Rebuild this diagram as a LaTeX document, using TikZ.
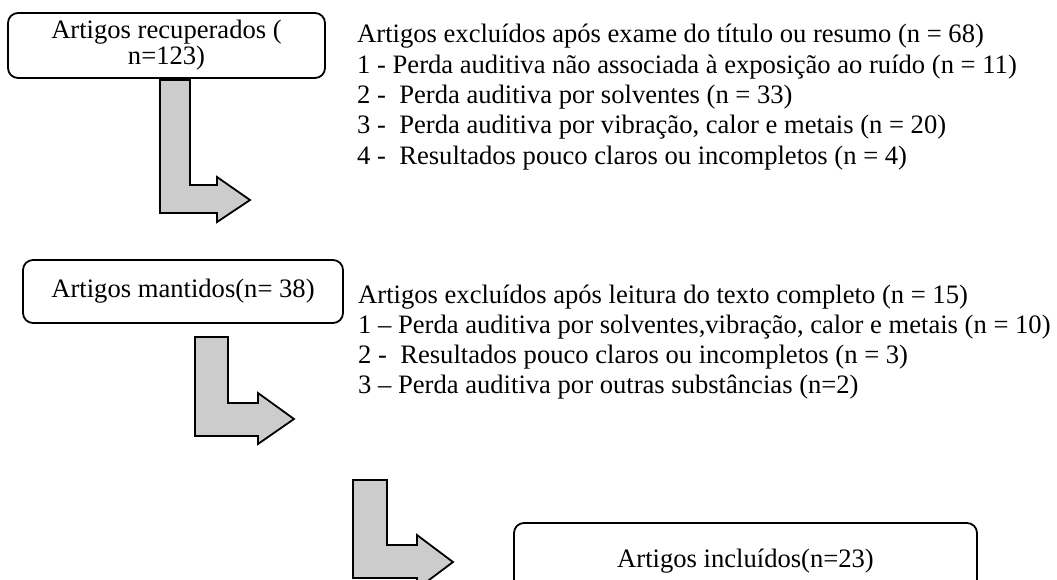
\documentclass[tikz,border=0pt]{standalone}
\usepackage{fontspec}
\setmainfont{Liberation Serif}

\begin{document}
\begin{tikzpicture}[x=1pt,y=-1pt]
\tikzset{BoxStyle/.style = {draw, line width=1.8pt, rounded corners=10pt, align=center, inner sep=0pt, font=\fontsize{26.6}{26}\selectfont},
ListStyle/.style = {anchor=base west, align=left, inner sep=0pt, font=\fontsize{26.6}{30.3}\selectfont},
ArrowStyle/.style = {draw, fill=black!20, line width=1.8pt, line join=miter}}
\useasboundingbox (0,0) rectangle (1057,580);
\clip (0,0) rectangle (1057,580);

\node[BoxStyle, minimum width=317, minimum height=65] (recuperados) at (166.5,45.5) {Artigos recuperados (\\n=123)};
\node[BoxStyle, minimum width=320, minimum height=63] (mantidos) at (183,291.5) {Artigos mantidos(n= 38)};
\node[BoxStyle, minimum width=463, minimum height=76] (incluidos) at (745.5,561) {Artigos inclu\'idos(n=23)};

% base = baseline of the last line
\node[ListStyle] (excl1) at (357,164.2) {Artigos exclu\'idos ap\'os exame do t\'itulo ou resumo (n = 68)\\
1 - Perda auditiva n\~ao associada \`a exposi\c{c}\~ao ao ru\'ido (n = 11)\\
2 - \ Perda auditiva por solventes (n = 33)\\
3 - \ Perda auditiva por vibra\c{c}\~ao, calor e metais (n = 20)\\
4 - \ Resultados pouco claros ou incompletos (n = 4)};
\node[ListStyle] (excl2) at (358,393.9) {Artigos exclu\'idos ap\'os leitura do texto completo (n = 15)\\
1 -- Perda auditiva por solventes,vibra\c{c}\~ao, calor e metais (n = 10)\\
2 - \ Resultados pouco claros ou incompletos (n = 3)\\
3 -- Perda auditiva por outras subst\^ancias (n=2)};

\coordinate (A1) at (160,80); \coordinate (A2) at (195,337); \coordinate (A3) at (353,480);
\draw[ArrowStyle] (A1) -- ++(30,0) -- ++(0,105) -- ++(27,0) -- ++(0,-8) -- ++(33,23) -- ++(-33,22) -- ++(0,-9) -- ++(-57,0) -- cycle;
\draw[ArrowStyle] (A2) -- ++(33,0) -- ++(0,66) -- ++(30,0) -- ++(0,-10) -- ++(36,26) -- ++(-36,25) -- ++(0,-8) -- ++(-63,0) -- cycle;
\draw[ArrowStyle] (A3) -- ++(34,0) -- ++(0,65) -- ++(30,0) -- ++(0,-10) -- ++(36,27) -- ++(-36,27) -- ++(0,-11) -- ++(-64,0) -- cycle;
\end{tikzpicture}
\end{document}
